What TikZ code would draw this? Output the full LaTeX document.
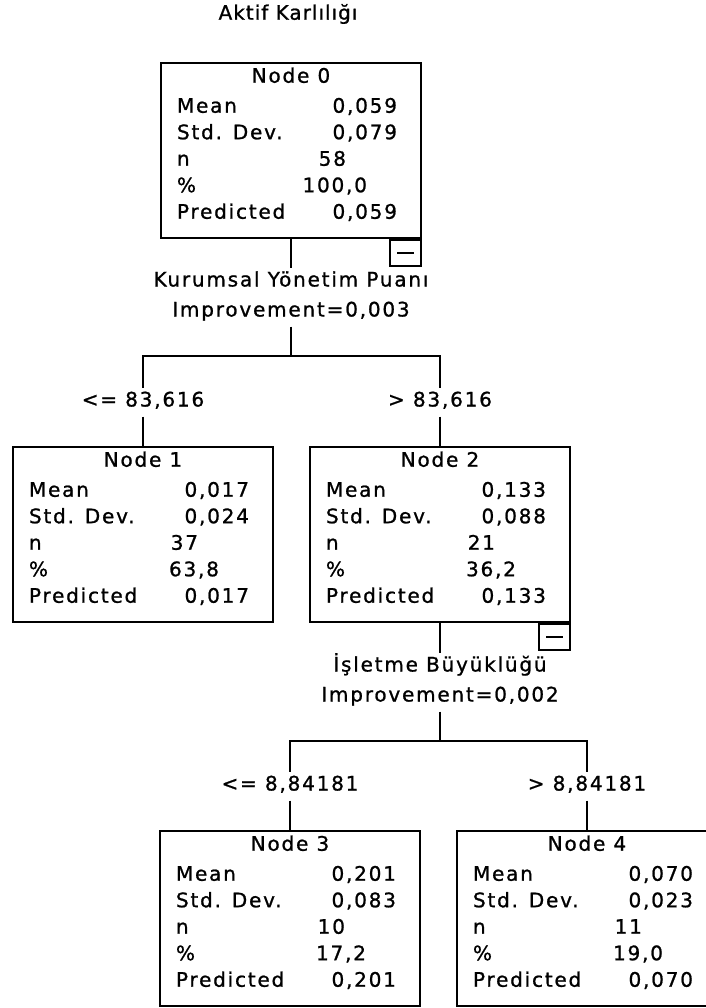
\documentclass[tikz,border=0pt]{standalone}
\usepackage{fontspec}
\setmainfont{DejaVu Sans}[LetterSpace=9,FakeBold=1]
\usetikzlibrary{positioning}

\begin{document}
\begin{tikzpicture}[x=1pt,y=-1pt,line width=2pt,
  font=\fontsize{20}{22}\selectfont,
  box/.style={draw,rectangle,minimum width=260pt,minimum height=175pt,anchor=north,inner sep=0pt},
  lbl/.style={anchor=mid west,inner sep=0pt},
  val/.style={anchor=mid east,inner sep=0pt},
  ttl/.style={anchor=mid,inner sep=0pt},
  split/.style={inner xsep=0pt,inner ysep=6pt,text height=12pt,text depth=3pt},
  minus/.style={draw,rectangle,minimum width=31pt,minimum height=26pt,inner sep=0pt,anchor=north east,
    path picture={\draw ([xshift=7pt]path picture bounding box.west) -- ([xshift=-7pt]path picture bounding box.east);}}]
\useasboundingbox (0,0) rectangle (705,1008);

\node[ttl] (title) at (288,17) {\addfontfeature{LetterSpace=5}Aktif Karlılığı};

% boxes
\node[box] (n0) at (291,62) {};
\node[box] (n1) at (143,446) {};
\node[box] (n2) at (440,446) {};
\node[box] (n3) at (290,830) {};
\node[box] (n4) at (587,830) {};
\node[minus] (m0) at (n0.south east) {};
\node[minus] (m2) at (n2.south east) {};

\foreach \b/\t in {n0/0,n1/1,n2/2,n3/3,n4/4}{
  \node[ttl] (\b-t) at ([yshift=-18pt]\b.north) {Node \t};
  \foreach \lab [count=\i from 0] in {Mean,Std. Dev.,n,\%,Predicted}
    \node[lbl] (\b-l\i) at ([xshift=16pt,yshift=-48pt-26.5pt*\i]\b.north west) {\lab};
}

% values
\foreach \v/\dx [count=\i from 0] in {{0,059}/238,{0,079}/238,58/187,{100,0}/208,{0,059}/238}
  \node[val] (n0-v\i) at ([xshift=\dx pt,yshift=-48pt-26.5pt*\i]n0.north west) {\v};
\foreach \v/\dx [count=\i from 0] in {{0,017}/238,{0,024}/238,37/187,{63,8}/208,{0,017}/238}
  \node[val] (n1-v\i) at ([xshift=\dx pt,yshift=-48pt-26.5pt*\i]n1.north west) {\v};
\foreach \v/\dx [count=\i from 0] in {{0,133}/238,{0,088}/238,21/187,{36,2}/208,{0,133}/238}
  \node[val] (n2-v\i) at ([xshift=\dx pt,yshift=-48pt-26.5pt*\i]n2.north west) {\v};
\foreach \v/\dx [count=\i from 0] in {{0,201}/238,{0,083}/238,10/187,{17,2}/208,{0,201}/238}
  \node[val] (n3-v\i) at ([xshift=\dx pt,yshift=-48pt-26.5pt*\i]n3.north west) {\v};
\foreach \v/\dx [count=\i from 0] in {{0,070}/238,{0,023}/238,11/187,{19,0}/208,{0,070}/238}
  \node[val] (n4-v\i) at ([xshift=\dx pt,yshift=-48pt-26.5pt*\i]n4.north west) {\v};

% first split
\node[split] (s0) at (291,282) {Kurumsal Yönetim Puanı};
\node[split] (s0i) at (291,312) {Improvement=0,003};
\node[split] (b1) at (143,402) {<= 83,616};
\node[split] (b2) at (440,402) {> 83,616};
\coordinate (j0) at (291,356);
\draw (n0.south) -- (s0.north);
\draw (s0i.south) -- (j0);
\draw (b1.north) |- (j0) -| (b2.north);
\draw (b1.south) -- (n1.north);
\draw (b2.south) -- (n2.north);

% second split
\node[split] (s2) at (440,667) {İşletme Büyüklüğü};
\node[split] (s2i) at (440,697) {Improvement=0,002};
\node[split] (b3) at (290,786) {<= 8,84181};
\node[split] (b4) at (587,786) {> 8,84181};
\coordinate (j2) at (440,741);
\draw (n2.south) -- (s2.north);
\draw (s2i.south) -- (j2);
\draw (b3.north) |- (j2) -| (b4.north);
\draw (b3.south) -- (n3.north);
\draw (b4.south) -- (n4.north);
\end{tikzpicture}
\end{document}
